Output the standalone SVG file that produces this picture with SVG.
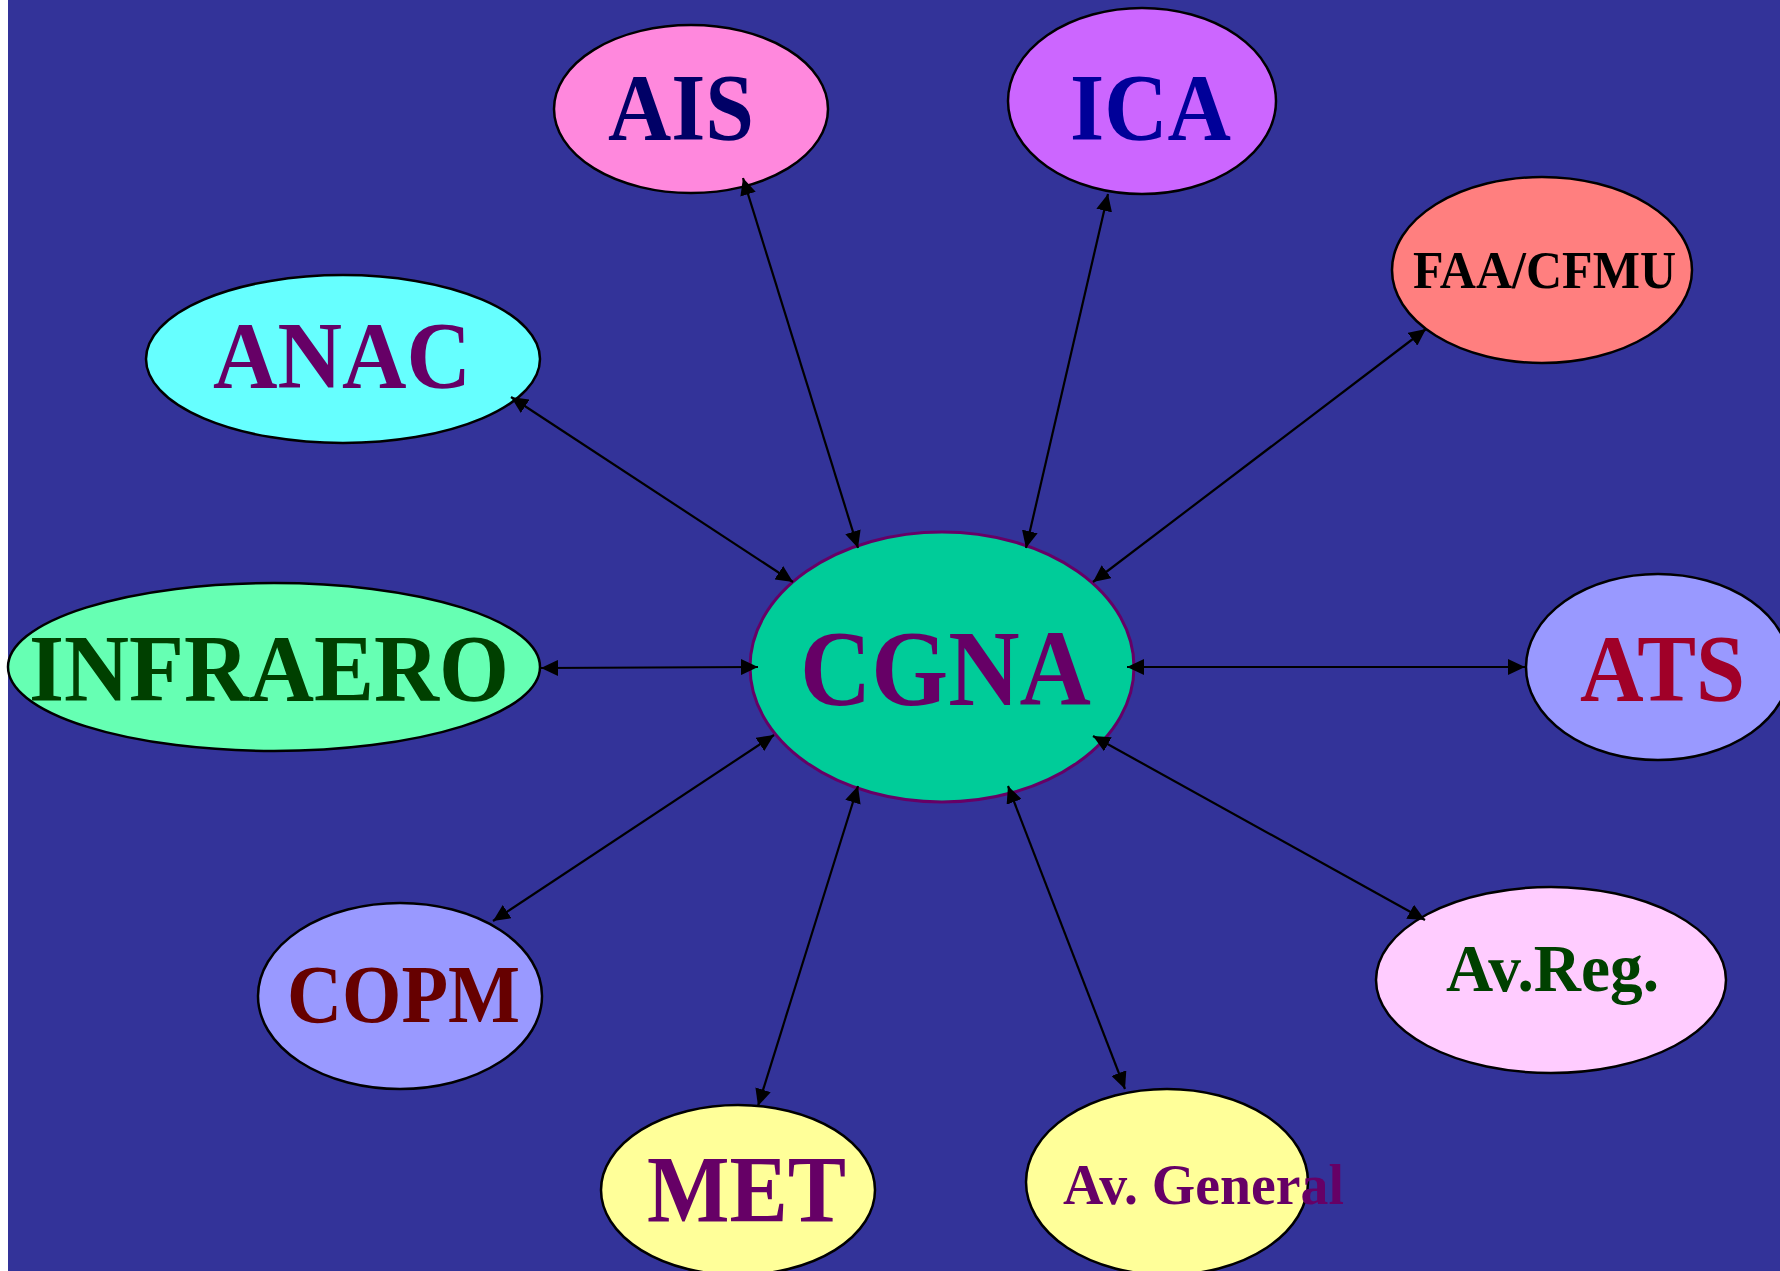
<svg xmlns="http://www.w3.org/2000/svg" width="1780" height="1271" viewBox="0 0 1780 1271">
<defs>
<marker id="ah" markerUnits="userSpaceOnUse" markerWidth="17" markerHeight="16" refX="17" refY="8" orient="auto-start-reverse" viewBox="0 0 17 16">
<path d="M0,0 L17,8 L0,16 z" fill="#000"/>
</marker>
<style>
.n{stroke:#000;stroke-width:2.5}
.t{font-family:"Liberation Serif","Times New Roman",serif;font-weight:bold}
.c line{stroke:#000;stroke-width:2.2;marker-start:url(#ah);marker-end:url(#ah)}
</style>
</defs>
<rect x="0" y="0" width="1780" height="1271" fill="#ffffff"/>
<rect x="8" y="0" width="1772" height="1271" fill="#333399"/>
<g id="AIS">
<ellipse class="n" cx="691" cy="109" rx="137" ry="84" fill="#FF88DD"/>
<text class="t" x="608" y="140" font-size="95" textLength="146" lengthAdjust="spacingAndGlyphs" fill="#000066">AIS</text>
</g>
<g id="ICA">
<ellipse class="n" cx="1142" cy="101" rx="134" ry="93" fill="#CC66FF"/>
<text class="t" x="1070" y="140" font-size="96" textLength="161" lengthAdjust="spacingAndGlyphs" fill="#000099">ICA</text>
</g>
<g id="FAA">
<ellipse class="n" cx="1542" cy="270" rx="150" ry="93" fill="#FF7F7F"/>
<text class="t" x="1413" y="288" font-size="52" textLength="263" lengthAdjust="spacingAndGlyphs" fill="#000000">FAA/CFMU</text>
</g>
<g id="ANAC">
<ellipse class="n" cx="343" cy="359" rx="197" ry="84" fill="#66FFFF"/>
<text class="t" x="213" y="388" font-size="95" textLength="258" lengthAdjust="spacingAndGlyphs" fill="#660066">ANAC</text>
</g>
<g id="INFRAERO">
<ellipse class="n" cx="274" cy="667" rx="266" ry="84" fill="#66FFB3"/>
<text class="t" x="29" y="701" font-size="96" textLength="480" lengthAdjust="spacingAndGlyphs" fill="#004000">INFRAERO</text>
</g>
<g id="CGNA">
<ellipse cx="942" cy="667" rx="192" ry="135" fill="#00CC99" stroke="#660066" stroke-width="3"/>
<text class="t" x="800" y="705" font-size="107" textLength="291" lengthAdjust="spacingAndGlyphs" fill="#660066">CGNA</text>
</g>
<g id="ATS">
<ellipse class="n" cx="1658" cy="667" rx="132" ry="93" fill="#9999FF"/>
<text class="t" x="1580" y="701" font-size="95" textLength="165" lengthAdjust="spacingAndGlyphs" fill="#A00028">ATS</text>
</g>
<g id="COPM">
<ellipse class="n" cx="400" cy="996" rx="142" ry="93" fill="#9999FF"/>
<text class="t" x="287" y="1022" font-size="82" textLength="233" lengthAdjust="spacingAndGlyphs" fill="#660000">COPM</text>
</g>
<g id="MET">
<ellipse class="n" cx="738" cy="1190" rx="137" ry="85" fill="#FFFF99"/>
<text class="t" x="647" y="1222" font-size="96" textLength="199" lengthAdjust="spacingAndGlyphs" fill="#660066">MET</text>
</g>
<g id="AvGeneral">
<ellipse class="n" cx="1167" cy="1182" rx="141" ry="93" fill="#FFFF99"/>
<text class="t" x="1063" y="1204" font-size="57" textLength="281" lengthAdjust="spacingAndGlyphs" fill="#660066">Av. General</text>
</g>
<g id="AvReg">
<ellipse class="n" cx="1551" cy="980" rx="175" ry="93" fill="#FFCCFF"/>
<text class="t" x="1446" y="991" font-size="67" textLength="213" lengthAdjust="spacingAndGlyphs" fill="#004000">Av.Reg.</text>
</g>
<g id="connectors" class="c">
<line x1="858" y1="548" x2="743" y2="178"/>
<line x1="1026" y1="548" x2="1108" y2="194"/>
<line x1="1093" y1="582" x2="1426" y2="329"/>
<line x1="793" y1="582" x2="511" y2="397"/>
<line x1="758" y1="667" x2="541" y2="668"/>
<line x1="1127" y1="667" x2="1525" y2="667"/>
<line x1="774" y1="735" x2="493" y2="921"/>
<line x1="858" y1="786" x2="758" y2="1106"/>
<line x1="1008" y1="786" x2="1125" y2="1089"/>
<line x1="1093" y1="736" x2="1425" y2="920"/>
</g>
</svg>
